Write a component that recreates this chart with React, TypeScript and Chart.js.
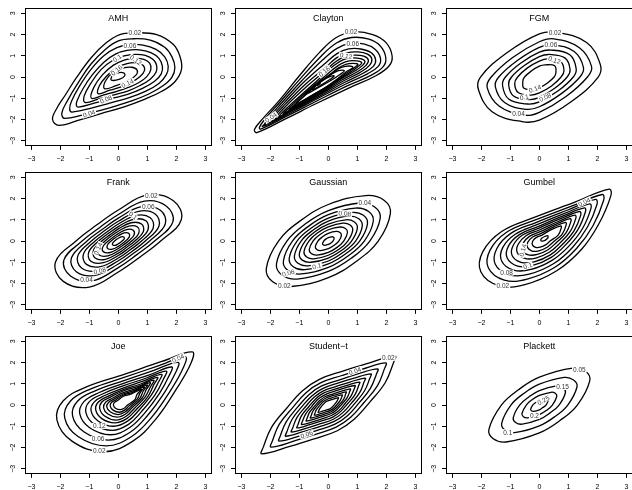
import React, { useEffect, useRef } from "react";
import { Chart, registerables } from "chart.js";
Chart.register(...registerables);
Chart.defaults.font.family = '"Liberation Sans", Arial, Helvetica, sans-serif';

type Label = [number, number, string, number];

const tickValues = [-3, -2, -1, 0, 1, 2, 3];
const panelTitles = ["AMH", "Clayton", "FGM", "Frank", "Gaussian", "Gumbel", "Joe", "Student\u2212t", "Plackett"];

// ---------- AMH ----------
const amhContours: number[][] = [
  [-2.05,-2.28, -1.3,-2.0, -0.6,-1.72, 0.2,-1.4, 0.9,-1.05, 1.5,-0.67, 1.95,-0.22, 2.18,0.37, 2.12,0.99, 1.89,1.54, 1.32,2.0, 0.5,2.08, 0.05,2.0, -0.41,1.62, -0.93,0.92, -1.44,-0.02, -1.84,-0.87, -2.13,-1.49, -2.27,-2.0],
  [-1.85,-1.95, -1.0,-1.7, -0.3,-1.45, 0.4,-1.15, 1.05,-0.8, 1.55,-0.4, 1.85,0.0, 1.95,0.45, 1.85,0.95, 1.6,1.4, 1.1,1.74, 0.45,1.8, 0.0,1.7, -0.45,1.3, -0.95,0.6, -1.4,-0.3, -1.75,-1.1, -1.95,-1.7],
  [-1.6,-1.65, -0.9,-1.45, -0.3,-1.23, 0.35,-0.98, 0.95,-0.66, 1.4,-0.3, 1.65,0.1, 1.72,0.5, 1.6,0.95, 1.3,1.3, 0.85,1.5, 0.38,1.52, -0.05,1.38, -0.5,1.0, -0.95,0.35, -1.35,-0.45, -1.62,-1.15, -1.68,-1.5],
  [-1.38,-1.42, -0.8,-1.22, -0.25,-1.02, 0.32,-0.82, 0.85,-0.52, 1.25,-0.2, 1.48,0.15, 1.52,0.5, 1.4,0.88, 1.12,1.15, 0.72,1.28, 0.3,1.25, -0.1,1.08, -0.5,0.7, -0.9,0.1, -1.22,-0.55, -1.42,-1.1, -1.45,-1.32],
  [-1.15,-1.2, -0.65,-1.02, -0.15,-0.84, 0.32,-0.66, 0.75,-0.4, 1.1,-0.1, 1.3,0.22, 1.32,0.55, 1.2,0.82, 0.93,1.02, 0.58,1.07, 0.2,1.0, -0.2,0.78, -0.6,0.35, -0.95,-0.3, -1.18,-0.9],
  [-0.93,-1.0, -0.5,-0.84, -0.05,-0.67, 0.32,-0.5, 0.7,-0.27, 0.98,0.02, 1.12,0.35, 1.08,0.65, 0.88,0.83, 0.55,0.88, 0.2,0.8, -0.18,0.55, -0.55,0.1, -0.85,-0.5],
  [-0.7,-0.78, -0.3,-0.62, 0.1,-0.46, 0.45,-0.25, 0.75,0.02, 0.9,0.3, 0.85,0.55, 0.62,0.67, 0.3,0.63, -0.05,0.44, -0.4,0.05, -0.65,-0.4],
  [-0.48,-0.55, -0.1,-0.42, 0.3,-0.2, 0.6,0.08, 0.65,0.32, 0.47,0.46, 0.15,0.42, -0.2,0.2, -0.45,-0.2],
  [-0.24,-0.15, 0.05,-0.1, 0.22,0.06, 0.18,0.2, -0.05,0.18, -0.22,0.03],
];
const amhLabels: Label[] = [
  [0.57,2.08,"0.02",0], [0.4,1.49,"0.06",0], [-0.04,0.89,"0.1",35], [0.6,0.8,"0.12",-35],
  [-0.06,0.32,"0.16",40], [0.32,-0.3,"0.14",25], [-0.43,-1.05,"0.08",22], [-1.01,-1.72,"0.04",18],
];

// ---------- Clayton ----------
const claytonContours: number[][] = [
  [-2.47,-2.62, -1.46,-1.96, -0.43,-1.26, 0.72,-0.51, 1.64,0.06, 2.1,0.53, 2.2,0.99, 1.99,1.62, 1.53,2.0, 0.84,2.13, 0.26,1.85, -0.31,1.15, -1.0,0.06, -1.69,-1.1, -2.26,-1.96, -2.55,-2.47],
  [-2.33,-2.45, -1.4,-1.82, -0.4,-1.13, 0.65,-0.42, 1.5,0.1, 1.9,0.5, 1.98,0.92, 1.8,1.45, 1.4,1.78, 0.8,1.86, 0.28,1.6, -0.25,0.98, -0.95,-0.05, -1.65,-1.15, -2.2,-2.0, -2.38,-2.38],
  [-2.2,-2.3, -1.3,-1.68, -0.35,-1.0, 0.6,-0.33, 1.35,0.15, 1.72,0.5, 1.8,0.87, 1.62,1.3, 1.25,1.55, 0.75,1.58, 0.3,1.35, -0.2,0.8, -0.9,-0.15, -1.6,-1.2, -2.1,-2.0],
  [-2.08,-2.18, -1.2,-1.55, -0.3,-0.9, 0.55,-0.26, 1.2,0.18, 1.55,0.5, 1.63,0.82, 1.47,1.15, 1.12,1.32, 0.7,1.32, 0.3,1.1, -0.15,0.6, -0.85,-0.25, -1.55,-1.25, -2.0,-1.95],
  [-1.95,-2.08, -1.1,-1.44, -0.25,-0.8, 0.5,-0.2, 1.1,0.22, 1.42,0.55, 1.5,0.85, 1.35,1.08, 1.02,1.18, 0.65,1.14, 0.28,0.9, -0.12,0.42, -0.8,-0.35, -1.5,-1.3, -1.9,-1.9],
  [-1.82,-1.97, -1.0,-1.33, -0.2,-0.72, 0.45,-0.15, 1.0,0.25, 1.3,0.55, 1.38,0.8, 1.22,0.98, 0.92,1.03, 0.58,0.97, 0.25,0.72, -0.1,0.3, -0.75,-0.45, -1.45,-1.35],
  [-1.7,-1.86, -0.9,-1.22, -0.15,-0.63, 0.42,-0.1, 0.9,0.27, 1.18,0.55, 1.26,0.75, 1.1,0.87, 0.82,0.9, 0.52,0.82, 0.2,0.55, -0.1,0.18, -0.7,-0.55, -1.4,-1.42],
  [-1.55,-1.72, -0.8,-1.1, -0.1,-0.55, 0.4,-0.08, 0.82,0.28, 1.08,0.55, 1.15,0.68, 0.98,0.76, 0.72,0.76, 0.45,0.63, 0.15,0.35, -0.15,0.0, -0.7,-0.62, -1.35,-1.45],
  [-1.35,-1.52, -0.7,-0.98, -0.1,-0.5, 0.35,-0.08, 0.72,0.27, 0.95,0.5, 1.02,0.6, 0.85,0.64, 0.6,0.6, 0.35,0.43, 0.08,0.15, -0.2,-0.15, -0.7,-0.7, -1.2,-1.35],
  [-1.1,-1.25, -0.55,-0.85, -0.05,-0.45, 0.32,-0.08, 0.62,0.25, 0.85,0.45, 0.72,0.52, 0.45,0.45, 0.2,0.25, -0.05,-0.02, -0.35,-0.32, -0.75,-0.8],
  [-0.8,-0.82, -0.35,-0.5, 0.1,-0.15, 0.4,0.12, 0.55,0.3, 0.35,0.3, 0.1,0.12, -0.2,-0.12, -0.55,-0.5],
  [-0.55,-0.6, -0.25,-0.38, 0.05,-0.12, 0.2,0.05, 0.05,0.02, -0.25,-0.2],
  [-0.38,-0.4, -0.28,-0.3, -0.33,-0.3],
  [-2.28,-2.33, -2.15,-2.22, -2.2,-2.22],
];
const claytonLabels: Label[] = [
  [0.78,2.13,"0.02",0], [0.84,1.55,"0.06",0], [0.61,1.0,"0.12",-10], [-0.14,0.26,"0.16",40], [-1.98,-1.9,"0.04",35],
];

// ---------- FGM ----------
const fgmContours: number[][] = [
  [0.6,2.1, 1.63,1.63, 2.1,0.6, 2.03,0, 1.13,-1.13, 0,-2.03, -0.6,-2.1, -1.63,-1.63, -2.1,-0.6, -2.03,0, -1.13,1.13, 0,2.03],
  [0.5,1.8, 1.38,1.38, 1.8,0.5, 1.66,0, 0.92,-0.92, 0,-1.66, -0.5,-1.8, -1.38,-1.38, -1.8,-0.5, -1.66,0, -0.92,0.92, 0,1.66],
  [0.45,1.52, 1.2,1.2, 1.52,0.45, 1.4,0, 0.77,-0.77, 0,-1.4, -0.45,-1.52, -1.2,-1.2, -1.52,-0.45, -1.4,0, -0.77,0.77, 0,1.4],
  [0.4,1.27, 1.05,1.05, 1.27,0.4, 1.17,0, 0.65,-0.65, 0,-1.17, -0.4,-1.27, -1.05,-1.05, -1.27,-0.4, -1.17,0, -0.65,0.65, 0,1.17],
  [0.35,1.06, 0.89,0.89, 1.06,0.35, 0.96,0, 0.53,-0.53, 0,-0.96, -0.35,-1.06, -0.89,-0.89, -1.06,-0.35, -0.96,0, -0.53,0.53, 0,0.96],
  [0.3,0.85, 0.73,0.73, 0.85,0.3, 0.75,0, 0.42,-0.42, 0,-0.75, -0.3,-0.85, -0.73,-0.73, -0.85,-0.3, -0.75,0, -0.42,0.42, 0,0.75],
  [0.2,0.57, 0.53,0.53, 0.57,0.2, 0.51,0, 0.28,-0.28, 0,-0.51, -0.2,-0.57, -0.53,-0.53, -0.57,-0.2, -0.51,0, -0.28,0.28, 0,0.51],
];
const fgmLabels: Label[] = [
  [0.54,2.08,"0.02",0], [0.4,1.5,"0.06",0], [0.52,0.8,"0.12",-20], [-0.15,-0.55,"0.14",20],
  [-0.52,-0.95,"0.1",10], [0.2,-0.95,"0.08",25], [-0.72,-1.75,"0.04",0],
];

// ---------- Frank ----------
const frankContours: number[][] = [
  [1.0,2.17, 1.9,1.9, 2.17,1.0, 1.46,0, 0.75,-0.75, 0,-1.46, -1.0,-2.17, -1.9,-1.9, -2.17,-1.0, -1.46,0, -0.75,0.75, 0,1.46],
  [0.9,1.88, 1.65,1.65, 1.88,0.9, 1.25,0, 0.64,-0.64, 0,-1.25, -0.9,-1.88, -1.65,-1.65, -1.88,-0.9, -1.25,0, -0.64,0.64, 0,1.25],
  [0.8,1.62, 1.45,1.45, 1.62,0.8, 1.08,0, 0.55,-0.55, 0,-1.08, -0.8,-1.62, -1.45,-1.45, -1.62,-0.8, -1.08,0, -0.55,0.55, 0,1.08],
  [0.7,1.4, 1.27,1.27, 1.4,0.7, 0.93,0, 0.48,-0.48, 0,-0.93, -0.7,-1.4, -1.27,-1.27, -1.4,-0.7, -0.93,0, -0.48,0.48, 0,0.93],
  [0.6,1.2, 1.1,1.1, 1.2,0.6, 0.8,0, 0.41,-0.41, 0,-0.8, -0.6,-1.2, -1.1,-1.1, -1.2,-0.6, -0.8,0, -0.41,0.41, 0,0.8],
  [0.52,1.02, 0.95,0.95, 1.02,0.52, 0.68,0, 0.35,-0.35, 0,-0.68, -0.52,-1.02, -0.95,-0.95, -1.02,-0.52, -0.68,0, -0.35,0.35, 0,0.68],
  [0.44,0.86, 0.8,0.8, 0.86,0.44, 0.57,0, 0.29,-0.29, 0,-0.57, -0.44,-0.86, -0.8,-0.8, -0.86,-0.44, -0.57,0, -0.29,0.29, 0,0.57],
  [0.36,0.7, 0.66,0.66, 0.7,0.36, 0.46,0, 0.24,-0.24, 0,-0.46, -0.36,-0.7, -0.66,-0.66, -0.7,-0.36, -0.46,0, -0.24,0.24, 0,0.46],
  [0.28,0.54, 0.51,0.51, 0.54,0.28, 0.35,0, 0.18,-0.18, 0,-0.35, -0.28,-0.54, -0.51,-0.51, -0.54,-0.28, -0.35,0, -0.18,0.18, 0,0.35],
  [0.2,0.38, 0.36,0.36, 0.38,0.2, 0.25,0, 0.13,-0.13, 0,-0.25, -0.2,-0.38, -0.36,-0.36, -0.38,-0.2, -0.25,0, -0.13,0.13, 0,0.25],
  [0.1,0.2, 0.19,0.19, 0.2,0.1, 0.13,0, 0.07,-0.07, 0,-0.13, -0.1,-0.2, -0.19,-0.19, -0.2,-0.1, -0.13,0, -0.07,0.07, 0,0.13],
];
const frankLabels: Label[] = [
  [1.14,2.13,"0.02",0], [1.03,1.6,"0.06",0], [0.51,1.2,"0.1",-40], [-1.1,-1.82,"0.04",0],
  [-0.64,-1.4,"0.08",15], [-0.7,-0.36,"0.14",65],
];

// ---------- Gaussian ----------
const gaussianContours: number[][] = [
  [1.29,2.14, 1.92,1.92, 2.14,1.29, 1.72,0, 0.96,-0.96, 0,-1.72, -1.29,-2.14, -1.92,-1.92, -2.14,-1.29, -1.72,0, -0.96,0.96, 0,1.72],
  [1.08,1.79, 1.6,1.6, 1.79,1.08, 1.43,0, 0.8,-0.8, 0,-1.43, -1.08,-1.79, -1.6,-1.6, -1.79,-1.08, -1.43,0, -0.8,0.8, 0,1.43],
  [0.93,1.55, 1.39,1.39, 1.55,0.93, 1.24,0, 0.69,-0.69, 0,-1.24, -0.93,-1.55, -1.39,-1.39, -1.55,-0.93, -1.24,0, -0.69,0.69, 0,1.24],
  [0.81,1.35, 1.21,1.21, 1.35,0.81, 1.08,0, 0.6,-0.6, 0,-1.08, -0.81,-1.35, -1.21,-1.21, -1.35,-0.81, -1.08,0, -0.6,0.6, 0,1.08],
  [0.7,1.17, 1.05,1.05, 1.17,0.7, 0.94,0, 0.52,-0.52, 0,-0.94, -0.7,-1.17, -1.05,-1.05, -1.17,-0.7, -0.94,0, -0.52,0.52, 0,0.94],
  [0.6,1.0, 0.9,0.9, 1.0,0.6, 0.8,0, 0.45,-0.45, 0,-0.8, -0.6,-1.0, -0.9,-0.9, -1.0,-0.6, -0.8,0, -0.45,0.45, 0,0.8],
  [0.5,0.84, 0.75,0.75, 0.84,0.5, 0.67,0, 0.38,-0.38, 0,-0.67, -0.5,-0.84, -0.75,-0.75, -0.84,-0.5, -0.67,0, -0.38,0.38, 0,0.67],
  [0.4,0.66, 0.59,0.59, 0.66,0.4, 0.53,0, 0.3,-0.3, 0,-0.53, -0.4,-0.66, -0.59,-0.59, -0.66,-0.4, -0.53,0, -0.3,0.3, 0,0.53],
  [0.27,0.45, 0.4,0.4, 0.45,0.27, 0.36,0, 0.2,-0.2, 0,-0.36, -0.27,-0.45, -0.4,-0.4, -0.45,-0.27, -0.36,0, -0.2,0.2, 0,0.36],
  [0.12,0.2, 0.18,0.18, 0.2,0.12, 0.16,0, 0.09,-0.09, 0,-0.16, -0.12,-0.2, -0.18,-0.18, -0.2,-0.12, -0.16,0, -0.09,0.09, 0,0.16],
];
const gaussianLabels: Label[] = [
  [1.26,1.79,"0.04",0], [0.57,1.3,"0.08",-5], [-0.4,-1.18,"0.1",15], [-1.38,-1.5,"0.06",15], [-1.52,-2.1,"0.02",0],
];

// ---------- Gumbel ----------
const gumbelContours: number[][] = [
  [2.41,2.44, 1.2,1.82, -0.2,1.1, -1.3,0.45, -1.95,-0.5, -2.02,-1.45, -1.4,-2.1, -0.5,-2.05, 0.6,-1.4, 1.45,-0.4, 2.05,0.8, 2.47,2.15],
  [2.17,2.19, 1.09,1.63, -0.16,0.98, -1.13,0.41, -1.7,-0.43, -1.76,-1.26, -1.21,-1.84, -0.42,-1.79, 0.55,-1.22, 1.29,-0.34, 1.85,0.72, 2.22,1.93],
  [1.94,1.96, 0.98,1.46, -0.12,0.87, -0.97,0.37, -1.47,-0.36, -1.52,-1.09, -1.04,-1.59, -0.35,-1.56, 0.5,-1.06, 1.15,-0.29, 1.66,0.66, 1.99,1.73],
  [1.74,1.75, 0.89,1.31, -0.08,0.77, -0.82,0.33, -1.26,-0.3, -1.3,-0.94, -0.89,-1.37, -0.29,-1.34, 0.45,-0.9, 1.02,-0.24, 1.49,0.59, 1.78,1.54],
  [1.56,1.56, 0.8,1.17, -0.05,0.68, -0.69,0.3, -1.07,-0.25, -1.11,-0.8, -0.75,-1.18, -0.23,-1.15, 0.41,-0.77, 0.9,-0.19, 1.33,0.54, 1.59,1.38],
  [1.39,1.39, 0.73,1.05, -0.03,0.6, -0.58,0.28, -0.9,-0.2, -0.94,-0.68, -0.63,-1.0, -0.18,-0.98, 0.38,-0.65, 0.8,-0.15, 1.2,0.49, 1.43,1.23],
  [1.23,1.22, 0.65,0.92, 0.0,0.52, -0.46,0.25, -0.73,-0.15, -0.76,-0.55, -0.5,-0.82, -0.12,-0.8, 0.34,-0.53, 0.7,-0.11, 1.06,0.44, 1.26,1.08],
  [1.07,1.05, 0.58,0.8, 0.03,0.44, -0.34,0.22, -0.56,-0.1, -0.59,-0.43, -0.38,-0.65, -0.07,-0.63, 0.3,-0.41, 0.59,-0.07, 0.92,0.38, 1.09,0.93],
  [0.9,0.88, 0.5,0.67, 0.06,0.36, -0.23,0.19, -0.4,-0.06, -0.41,-0.3, -0.25,-0.47, -0.02,-0.46, 0.27,-0.29, 0.49,-0.03, 0.79,0.33, 0.93,0.79],
  [0.74,0.71, 0.43,0.55, 0.09,0.28, -0.11,0.16, -0.23,-0.01, -0.24,-0.18, -0.13,-0.3, 0.03,-0.29, 0.23,-0.17, 0.38,0.01, 0.65,0.28, 0.76,0.64],
  [0.3,0.25, 0.2,0.22, 0.08,0.13, 0.05,0.03, 0.12,0.0, 0.25,0.08],
];
const gumbelLabels: Label[] = [
  [1.55,1.84,"0.04",25], [-1.13,-1.49,"0.08",0], [-0.4,-1.17,"0.1",20], [-1.26,-2.11,"0.02",0], [-0.57,-0.44,"0.14",75],
];

// ---------- Joe ----------
const joeContours: number[][] = [
  [2.55,2.5, 1.5,2.05, 0.2,1.44, -1.1,0.85, -1.9,0.2, -2.12,-0.7, -1.6,-1.7, -0.5,-2.2, 0.5,-1.7, 1.3,-0.65, 2.0,0.75, 2.5,1.95],
  [2.31,2.26, 1.35,1.83, 0.2,1.3, -0.95,0.76, -1.65,0.19, -1.85,-0.6, -1.39,-1.48, -0.42,-1.92, 0.46,-1.48, 1.16,-0.56, 1.8,0.68, 2.24,1.75],
  [2.06,2.01, 1.2,1.62, 0.19,1.15, -0.8,0.67, -1.41,0.18, -1.58,-0.51, -1.18,-1.27, -0.34,-1.65, 0.42,-1.27, 1.02,-0.47, 1.6,0.61, 1.98,1.54],
  [1.84,1.79, 1.07,1.42, 0.18,1.02, -0.66,0.59, -1.18,0.17, -1.33,-0.42, -0.99,-1.07, -0.27,-1.4, 0.38,-1.07, 0.9,-0.39, 1.42,0.55, 1.74,1.35],
  [1.65,1.6, 0.95,1.26, 0.18,0.91, -0.55,0.52, -1.0,0.16, -1.12,-0.35, -0.83,-0.91, -0.21,-1.19, 0.35,-0.91, 0.79,-0.32, 1.27,0.49, 1.55,1.2],
  [1.49,1.44, 0.85,1.12, 0.18,0.81, -0.45,0.46, -0.83,0.15, -0.94,-0.28, -0.69,-0.76, -0.16,-1.0, 0.32,-0.76, 0.7,-0.26, 1.13,0.45, 1.38,1.07],
  [1.35,1.3, 0.77,0.99, 0.17,0.73, -0.36,0.41, -0.69,0.14, -0.78,-0.23, -0.57,-0.64, -0.12,-0.84, 0.29,-0.64, 0.62,-0.21, 1.02,0.4, 1.22,0.95],
  [1.22,1.17, 0.69,0.88, 0.17,0.66, -0.29,0.36, -0.57,0.14, -0.64,-0.18, -0.46,-0.53, -0.08,-0.71, 0.27,-0.53, 0.55,-0.16, 0.92,0.37, 1.1,0.84],
  [1.1,1.05, 0.62,0.78, 0.17,0.58, -0.21,0.32, -0.44,0.13, -0.51,-0.13, -0.36,-0.42, -0.04,-0.57, 0.25,-0.42, 0.48,-0.12, 0.82,0.33, 0.97,0.74],
  [1.0,0.95, 0.56,0.69, 0.17,0.52, -0.15,0.28, -0.34,0.12, -0.4,-0.09, -0.27,-0.33, -0.01,-0.45, 0.23,-0.33, 0.43,-0.08, 0.74,0.31, 0.86,0.66],
  [0.9,0.85, 0.49,0.6, 0.16,0.46, -0.09,0.24, -0.24,0.12, -0.28,-0.05, -0.18,-0.24, 0.03,-0.34, 0.22,-0.24, 0.37,-0.04, 0.65,0.28, 0.75,0.57],
  [0.8,0.75, 0.43,0.51, 0.16,0.4, -0.03,0.21, -0.14,0.11, -0.17,-0.01, -0.1,-0.15, 0.06,-0.22, 0.2,-0.15, 0.31,-0.01, 0.57,0.25, 0.64,0.49],
];
const joeLabels: Label[] = [
  [-0.66,-2.16,"0.02",0], [-0.7,-1.6,"0.06",0], [-0.66,-0.98,"0.12",0], [2.06,2.2,"0.04",25],
];

// ---------- Student-t ----------
const studentContours: number[][] = [
  [2.3,2.3, 1.3,1.94, 0.55,1.62, -0.31,1.21, -0.89,0.67, -1.43,-0.14, -1.96,-1.05, -2.24,-1.97, -2.3,-2.3, -1.3,-1.94, -0.55,-1.62, 0.31,-1.21, 0.89,-0.67, 1.43,0.14, 1.96,1.05, 2.24,1.97],
  [1.98,1.98, 1.12,1.67, 0.47,1.39, -0.27,1.04, -0.77,0.58, -1.23,-0.12, -1.69,-0.9, -1.93,-1.69, -1.98,-1.98, -1.12,-1.67, -0.47,-1.39, 0.27,-1.04, 0.77,-0.58, 1.23,0.12, 1.69,0.9, 1.93,1.69],
  [1.7,1.7, 0.96,1.44, 0.41,1.2, -0.23,0.9, -0.66,0.5, -1.06,-0.1, -1.45,-0.78, -1.66,-1.46, -1.7,-1.7, -0.96,-1.44, -0.41,-1.2, 0.23,-0.9, 0.66,-0.5, 1.06,0.1, 1.45,0.78, 1.66,1.46],
  [1.47,1.47, 0.83,1.24, 0.35,1.04, -0.2,0.77, -0.57,0.43, -0.92,-0.09, -1.25,-0.67, -1.43,-1.26, -1.47,-1.47, -0.83,-1.24, -0.35,-1.04, 0.2,-0.77, 0.57,-0.43, 0.92,0.09, 1.25,0.67, 1.43,1.26],
  [1.27,1.27, 0.72,1.07, 0.3,0.89, -0.17,0.67, -0.49,0.37, -0.79,-0.08, -1.08,-0.58, -1.23,-1.08, -1.27,-1.27, -0.72,-1.07, -0.3,-0.89, 0.17,-0.67, 0.49,-0.37, 0.79,0.08, 1.08,0.58, 1.23,1.08],
  [1.08,1.08, 0.61,0.91, 0.26,0.76, -0.15,0.57, -0.42,0.31, -0.67,-0.07, -0.92,-0.49, -1.05,-0.93, -1.08,-1.08, -0.61,-0.91, -0.26,-0.76, 0.15,-0.57, 0.42,-0.31, 0.67,0.07, 0.92,0.49, 1.05,0.93],
  [0.92,0.92, 0.52,0.78, 0.22,0.65, -0.12,0.48, -0.36,0.27, -0.57,-0.06, -0.78,-0.42, -0.9,-0.79, -0.92,-0.92, -0.52,-0.78, -0.22,-0.65, 0.12,-0.48, 0.36,-0.27, 0.57,0.06, 0.78,0.42, 0.9,0.79],
  [0.76,0.76, 0.43,0.64, 0.18,0.53, -0.1,0.4, -0.29,0.22, -0.47,-0.05, -0.65,-0.35, -0.74,-0.65, -0.76,-0.76, -0.43,-0.64, -0.18,-0.53, 0.1,-0.4, 0.29,-0.22, 0.47,0.05, 0.65,0.35, 0.74,0.65],
  [0.62,0.62, 0.35,0.52, 0.15,0.44, -0.08,0.33, -0.24,0.18, -0.39,-0.04, -0.53,-0.28, -0.6,-0.53, -0.62,-0.62, -0.35,-0.52, -0.15,-0.44, 0.08,-0.33, 0.24,-0.18, 0.39,0.04, 0.53,0.28, 0.6,0.53],
  [0.48,0.48, 0.27,0.41, 0.12,0.34, -0.07,0.25, -0.19,0.14, -0.3,-0.03, -0.41,-0.22, -0.47,-0.41, -0.48,-0.48, -0.27,-0.41, -0.12,-0.34, 0.07,-0.25, 0.19,-0.14, 0.3,0.03, 0.41,0.22, 0.47,0.41],
  [0.35,0.35, 0.2,0.29, 0.08,0.24, -0.05,0.18, -0.13,0.1, -0.21,-0.02, -0.29,-0.16, -0.34,-0.3, -0.35,-0.35, -0.2,-0.29, -0.08,-0.24, 0.05,-0.18, 0.13,-0.1, 0.21,0.02, 0.29,0.16, 0.34,0.3],
];
const studentLabels: Label[] = [
  [2.07,2.22,"0.02",0], [0.92,1.6,"0.04",20], [-0.75,-1.38,"0.06",20],
];

// ---------- Plackett ----------
const plackettContours: number[][] = [
  [1.15,1.74, 1.59,1.59, 1.74,1.15, 1.31,0, 0.72,-0.72, 0,-1.31, -1.15,-1.74, -1.59,-1.59, -1.74,-1.15, -1.31,0, -0.72,0.72, 0,1.31],
  [0.86,1.3, 1.18,1.18, 1.3,0.86, 0.98,0, 0.54,-0.54, 0,-0.98, -0.86,-1.3, -1.18,-1.18, -1.3,-0.86, -0.98,0, -0.54,0.54, 0,0.98],
  [0.59,0.9, 0.82,0.82, 0.9,0.59, 0.68,0, 0.37,-0.37, 0,-0.68, -0.59,-0.9, -0.82,-0.82, -0.9,-0.59, -0.68,0, -0.37,0.37, 0,0.68],
  [0.4,0.6, 0.55,0.55, 0.6,0.4, 0.45,0, 0.25,-0.25, 0,-0.45, -0.4,-0.6, -0.55,-0.55, -0.6,-0.4, -0.45,0, -0.25,0.25, 0,0.45],
  [0.2,0.3, 0.27,0.27, 0.3,0.2, 0.23,0, 0.12,-0.12, 0,-0.23, -0.2,-0.3, -0.27,-0.27, -0.3,-0.2, -0.23,0, -0.12,0.12, 0,0.23],
];
const plackettLabels: Label[] = [
  [1.38,1.66,"0.05",0], [0.8,0.85,"0.15",0], [0.14,0.22,"0.25",30], [-0.17,-0.52,"0.2",0], [-1.09,-1.28,"0.1",0],
];

const panelContours = [amhContours, claytonContours, fgmContours, frankContours, gaussianContours, gumbelContours, joeContours, studentContours, plackettContours];
const panelLabels = [amhLabels, claytonLabels, fgmLabels, frankLabels, gaussianLabels, gumbelLabels, joeLabels, studentLabels, plackettLabels];

// layout
const colLeft = [0, 210, 421];
const rowTop = [0, 164, 328];
const rowHeight = [163, 163, 162];
const CANVAS_W = 214;
const AREA_LEFT = 25;
const AREA_RIGHT = 211.7;
const AREA_TOP = 6.85;
const AREA_BOTTOM = 145.85;

function fmtTick(v: number | string) {
  const n = Number(v);
  return n < 0 ? "\u2212" + Math.abs(n) : String(n);
}

function ring(flat: number[]) {
  const pts: { x: number; y: number }[] = [];
  for (let i = 0; i + 1 < flat.length; i += 2) pts.push({ x: flat[i], y: flat[i + 1] });
  const n = pts.length;
  return { n, data: [pts[n - 1], ...pts, pts[0], pts[1]] };
}

function Panel({ idx }: { idx: number }) {
  const ref = useRef<HTMLCanvasElement>(null);
  const col = idx % 3;
  const row = Math.floor(idx / 3);
  const H = rowHeight[row];
  useEffect(() => {
    const contours = panelContours[idx];
    const labels = panelLabels[idx];
    const title = panelTitles[idx];
    const datasets = contours.map((c) => {
      const r = ring(c);
      return {
        data: r.data,
        showLine: true,
        borderColor: "#000",
        borderWidth: 1.3,
        pointRadius: 0,
        pointHoverRadius: 0,
        tension: 0.4,
        fill: false,
        segment: {
          borderColor: (ctx: any) =>
            ctx.p0DataIndex === 0 || ctx.p0DataIndex === r.n + 1 ? "rgba(0,0,0,0)" : "#000",
        },
      };
    });
    const overlay = {
      id: "overlay" + idx,
      afterDatasetsDraw(chart: any) {
        const { ctx, chartArea: a, scales } = chart;
        const xs = scales.x, ys = scales.y;
        ctx.save();
        ctx.beginPath();
        ctx.rect(a.left, a.top, a.right - a.left, a.bottom - a.top);
        ctx.clip();
        ctx.font = '6.5px "Liberation Sans", Arial, sans-serif';
        ctx.textAlign = "center";
        ctx.textBaseline = "middle";
        for (const [lx, ly, text, ang] of labels) {
          const px = xs.getPixelForValue(lx);
          const py = ys.getPixelForValue(ly);
          ctx.save();
          ctx.translate(px, py);
          ctx.rotate((-ang * Math.PI) / 180);
          const w = ctx.measureText(text).width;
          ctx.fillStyle = "#fff";
          ctx.fillRect(-w / 2 - 1, -3, w + 2, 6);
          ctx.fillStyle = "#333";
          ctx.fillText(text, 0, 0.5);
          ctx.restore();
        }
        ctx.restore();
        ctx.save();
        ctx.strokeStyle = "#000";
        ctx.lineWidth = 1;
        const l = Math.round(a.left) + 0.5, t = Math.round(a.top) + 0.5;
        const r = Math.round(a.right) - 0.5, b = Math.round(a.bottom) - 0.5;
        ctx.strokeRect(l, t, r - l, b - t);
        ctx.fillStyle = "#000";
        ctx.font = '9px "Liberation Sans", Arial, sans-serif';
        ctx.textAlign = "center";
        ctx.textBaseline = "middle";
        ctx.fillText(title, (a.left + a.right) / 2, a.top + 10);
        ctx.restore();
      },
    };
    const chart = new Chart(ref.current as HTMLCanvasElement, {
      type: "scatter",
      data: { datasets: datasets as any },
      plugins: [overlay],
      options: {
        responsive: false,
        animation: false,
        devicePixelRatio: 1,
        events: [],
        layout: { padding: { top: AREA_TOP, right: CANVAS_W - AREA_RIGHT, left: 0, bottom: 0 } },
        plugins: { legend: { display: false }, tooltip: { enabled: false }, title: { display: false } },
        scales: {
          x: {
            type: "linear",
            min: -3.22,
            max: 3.22,
            afterBuildTicks: (s: any) => { s.ticks = tickValues.map((v) => ({ value: v })); },
            afterFit: (s: any) => { s.height = H - AREA_BOTTOM; },
            ticks: { autoSkip: false, maxRotation: 0, minRotation: 0, padding: 5, color: "#000", font: { size: 7 }, callback: fmtTick },
            grid: { drawOnChartArea: false, drawTicks: true, tickLength: 4, color: "#000" },
            border: { display: true, color: "#000" },
          },
          y: {
            type: "linear",
            min: -3.24,
            max: 3.24,
            afterBuildTicks: (s: any) => { s.ticks = tickValues.map((v) => ({ value: v })); },
            afterFit: (s: any) => { s.width = AREA_LEFT; },
            ticks: { autoSkip: false, minRotation: 90, maxRotation: 90, crossAlign: "center", padding: 4, color: "#000", font: { size: 7 }, callback: fmtTick },
            grid: { drawOnChartArea: false, drawTicks: true, tickLength: 4, color: "#000" },
            border: { display: true, color: "#000" },
          },
        },
      } as any,
    });
    return () => chart.destroy();
  }, [idx, H]);
  return (
    <canvas
      ref={ref}
      width={CANVAS_W}
      height={H}
      style={{ position: "absolute", left: colLeft[col], top: rowTop[row], width: CANVAS_W, height: H }}
    />
  );
}

export default function App() {
  return (
    <div style={{ position: "fixed", left: 0, top: 0, width: 632, height: 490, background: "#fff", overflow: "hidden" }}>
      {panelTitles.map((_, i) => (
        <Panel key={i} idx={i} />
      ))}
    </div>
  );
}
